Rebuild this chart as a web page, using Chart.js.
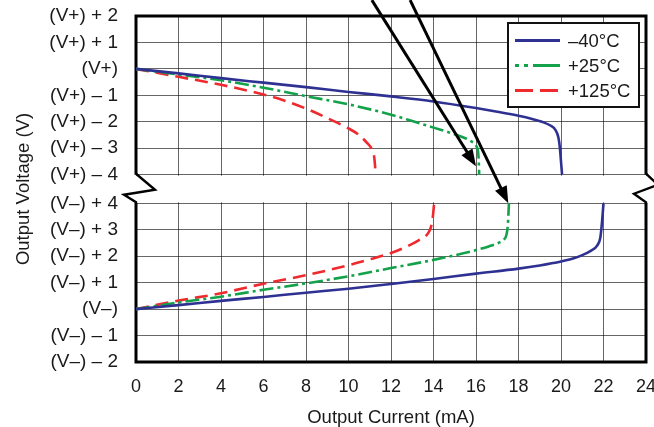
<!DOCTYPE html>
<html><head><meta charset="utf-8">
<script src="https://cdn.jsdelivr.net/npm/chart.js@4.4.1/dist/chart.umd.min.js"></script>
<style>html,body{margin:0;padding:0;background:#fff;}#wrap{width:654px;height:427px;}</style>
</head><body><div id="wrap"><canvas id="c" width="654" height="427"></canvas></div>
<script>
// ---- data ----
const currentTicks = [0, 2, 4, 6, 8, 10, 12, 14, 16, 18, 20, 22, 24];
const highRailOffsets = [-4, -3, -2, -1, 0, 1, 2];
const highRailLabels = ['(V+) – 4', '(V+) – 3', '(V+) – 2', '(V+) – 1', '(V+)', '(V+) + 1', '(V+) + 2'];
const lowRailOffsets = [-2, -1, 0, 1, 2, 3, 4];
const lowRailLabels = ['(V–) – 2', '(V–) – 1', '(V–)', '(V–) + 1', '(V–) + 2', '(V–) + 3', '(V–) + 4'];
const seriesNames = ['–40°C', '+25°C', '+125°C'];

// output swing relative to V+ : [current mA, volts from rail]
const highM40 = [[0,0],[2,-0.17],[4,-0.35],[6,-0.52],[8,-0.69],[10,-0.87],[12,-1.04],[14,-1.23],[16,-1.48],[17,-1.62],[18,-1.77],[18.6,-1.88],[19.1,-2.0],[19.5,-2.14],[19.75,-2.32],[19.88,-2.6],[19.95,-3.0],[20.0,-3.5],[20.05,-4]];
const high25 = [[0,0],[2,-0.21],[4,-0.43],[6,-0.71],[8,-1.03],[10,-1.34],[12,-1.73],[13,-1.97],[14,-2.22],[15,-2.47],[15.5,-2.62],[15.8,-2.75],[16.0,-2.9],[16.1,-3.15],[16.13,-3.5],[16.15,-4]];
const high125 = [[0,0],[2,-0.3],[4,-0.6],[6,-0.97],[7,-1.2],[8,-1.5],[9,-1.86],[10,-2.25],[10.5,-2.5],[10.85,-2.78],[11.1,-3.05],[11.22,-3.4],[11.28,-4]];
// output swing relative to V- : [current mA, volts from rail]
const lowM40 = [[0,0],[2,0.15],[4,0.31],[6,0.46],[8,0.62],[10,0.77],[12,0.95],[14,1.14],[16,1.34],[18,1.53],[19,1.65],[20,1.8],[20.6,1.92],[21.0,2.04],[21.4,2.2],[21.7,2.4],[21.85,2.7],[21.92,3.2],[22.0,4]];
const low25 = [[0,0],[2,0.25],[4,0.47],[6,0.73],[8,0.97],[10,1.24],[12,1.55],[14,1.86],[16,2.23],[16.6,2.37],[17.05,2.5],[17.3,2.62],[17.43,2.8],[17.5,3.2],[17.55,4]];
const low125 = [[0,0],[2,0.32],[4,0.6],[6,0.96],[8,1.28],[10,1.66],[11,1.88],[12,2.12],[12.7,2.35],[13.3,2.6],[13.7,2.82],[13.88,3.1],[13.97,3.5],[14.03,4]];

// callout arrows: tail (current, volts vs V+), tip (current, volts vs rail)
const arrowFromCurrent = [11.1, 12.9];
const arrowFromSwing = [2.6, 2.6];
const arrowToCurrent = [16.0, 17.52];
const arrowToSwing = [-3.68, 4.0];
const arrowToRail = ['high', 'low'];

// ---- axis mapping for the broken y axis ----
const GAP = 1.08;
const HIGH_SHIFT = 8 + GAP;
const toAxis = (v, rail) => rail === 'high' ? v + HIGH_SHIFT : v;
const pts = (arr, rail) => arr.map(([x, y]) => ({x, y: toAxis(y, rail)}));
const tickValues = [...lowRailOffsets.map(v => toAxis(v, 'low')), ...highRailOffsets.map(v => toAxis(v, 'high'))];
const tickLabel = new Map();
lowRailOffsets.forEach((v, i) => tickLabel.set(toAxis(v, 'low').toFixed(3), lowRailLabels[i]));
highRailOffsets.forEach((v, i) => tickLabel.set(toAxis(v, 'high').toFixed(3), highRailLabels[i]));

const colors = ['#2e3192', '#13a24a', '#ee2a2e'];
const dashes = [[], [14, 4, 3, 4], [13, 7]];
const legendDashes = [[], [4, 5, 4, 5, 27, 0], [18, 7]];
const FONT = '"Liberation Sans", Arial, Helvetica, sans-serif';
const TEXT = '#1a1a1a';
const GRID = 'rgba(0,0,0,0.6)';

const seriesHigh = [highM40, high25, high125];
const seriesLow = [lowM40, low25, low125];
const datasets = [];
for (let i = 0; i < 3; i++) {
  const base = {borderColor: colors[i], backgroundColor: colors[i], borderDash: dashes[i], borderWidth: 2.6,
    pointRadius: 0, fill: false, cubicInterpolationMode: 'monotone', borderCapStyle: 'butt'};
  datasets.push(Object.assign({label: seriesNames[i], data: pts(seriesHigh[i], 'high')}, base));
  datasets.push(Object.assign({label: seriesNames[i], data: pts(seriesLow[i], 'low')}, base));
}

const breakPlugin = {
  id: 'breakPlugin',
  beforeDatasetsDraw(chart) {
    const {ctx, chartArea: a, scales: {y}} = chart;
    const yA = y.getPixelForValue(toAxis(-4, 'high'));
    const yB = y.getPixelForValue(toAxis(4, 'low'));
    ctx.save();
    ctx.fillStyle = '#fff';
    ctx.fillRect(a.left - 3, yA + 1, a.right - a.left + 6, yB - yA - 2);
    ctx.strokeStyle = '#000';
    ctx.lineWidth = 3;
    ctx.lineJoin = 'miter';
    ctx.beginPath();
    ctx.moveTo(a.left, yA); ctx.lineTo(a.left, a.top); ctx.lineTo(a.right, a.top); ctx.lineTo(a.right, yA);
    ctx.stroke();
    ctx.beginPath();
    ctx.moveTo(a.left, yB); ctx.lineTo(a.left, a.bottom); ctx.lineTo(a.right, a.bottom); ctx.lineTo(a.right, yB);
    ctx.stroke();
    ctx.lineWidth = 2.4;
    ctx.beginPath();
    ctx.moveTo(a.left, yA - 1); ctx.lineTo(a.left + 19, yA + 15); ctx.lineTo(a.left - 12, yA + 20); ctx.lineTo(a.left, yB - 1); ctx.lineTo(a.left, yB + 1);
    ctx.moveTo(a.right, yA - 1); ctx.lineTo(a.right + 12, yA + 10); ctx.lineTo(a.right - 12, yA + 19); ctx.lineTo(a.right, yB - 1); ctx.lineTo(a.right, yB + 1);
    ctx.stroke();
    ctx.restore();
  },
  afterDraw(chart) {
    const {ctx, chartArea: a, scales: {x, y}} = chart;
    ctx.save();
    // legend
    const bw = 131, bh = 84;
    const bx = a.right - 7 - bw, by = a.top + 7;
    ctx.fillStyle = '#fff';
    ctx.fillRect(bx, by, bw, bh);
    ctx.strokeStyle = '#111';
    ctx.lineWidth = 2;
    ctx.strokeRect(bx, by, bw, bh);
    ctx.font = '18.5px ' + FONT;
    ctx.textBaseline = 'middle';
    ctx.textAlign = 'left';
    for (let i = 0; i < 3; i++) {
      const ry = by + 17.5 + i * 25;
      ctx.strokeStyle = colors[i];
      ctx.lineWidth = 2.8;
      ctx.setLineDash(legendDashes[i]);
      ctx.beginPath();
      ctx.moveTo(bx + 7, ry); ctx.lineTo(bx + 52, ry);
      ctx.stroke();
      ctx.setLineDash([]);
      ctx.fillStyle = TEXT;
      ctx.fillText(seriesNames[i], bx + 60, ry + 1);
    }
    // arrows
    ctx.strokeStyle = '#000';
    ctx.fillStyle = '#000';
    ctx.lineWidth = 3;
    for (let i = 0; i < arrowFromCurrent.length; i++) {
      const x1 = x.getPixelForValue(arrowFromCurrent[i]);
      const y1 = y.getPixelForValue(toAxis(arrowFromSwing[i], 'high'));
      const x2 = x.getPixelForValue(arrowToCurrent[i]);
      const y2 = y.getPixelForValue(toAxis(arrowToSwing[i], arrowToRail[i]));
      const ang = Math.atan2(y2 - y1, x2 - x1);
      const c = Math.cos(ang), s = Math.sin(ang);
      const hl = 17, hw = 6.5;
      ctx.beginPath();
      ctx.moveTo(x1, y1);
      ctx.lineTo(x2 - c * hl * 0.8, y2 - s * hl * 0.8);
      ctx.stroke();
      ctx.beginPath();
      ctx.moveTo(x2, y2);
      ctx.lineTo(x2 - c * hl - s * hw, y2 - s * hl + c * hw);
      ctx.lineTo(x2 - c * hl + s * hw, y2 - s * hl - c * hw);
      ctx.closePath();
      ctx.fill();
    }
    ctx.restore();
  }
};

new Chart(document.getElementById('c'), {
  type: 'line',
  data: {datasets},
  options: {
    responsive: false,
    animation: false,
    devicePixelRatio: 1,
    layout: {padding: {left: 0, right: 8, top: 16, bottom: 0}},
    plugins: {legend: {display: false}, tooltip: {enabled: false}},
    scales: {
      x: {
        type: 'linear', min: 0, max: 24,
        afterBuildTicks: s => { s.ticks = currentTicks.map(v => ({value: v})); },
        afterFit: s => { s.height = 65; s.paddingLeft = 0; s.paddingRight = 0; },
        ticks: {autoSkip: false, maxRotation: 0, padding: 14, color: TEXT, font: {family: FONT, size: 18}},
        grid: {color: GRID, lineWidth: 1, drawTicks: false},
        border: {display: false},
        title: {display: true, text: 'Output Current (mA)', color: TEXT, font: {family: FONT, size: 18.5, lineHeight: 1}, padding: {top: 0, bottom: 0}}
      },
      y: {
        type: 'linear', min: toAxis(-2, 'low'), max: toAxis(2, 'high'),
        afterBuildTicks: s => { s.ticks = tickValues.map(v => ({value: v})); },
        afterFit: s => { s.width = 136; s.paddingTop = 0; s.paddingBottom = 0; },
        ticks: {autoSkip: false, padding: 18, color: TEXT, font: {family: FONT, size: 19},
          callback: v => tickLabel.get(Number(v).toFixed(3)) || ''},
        grid: {color: GRID, lineWidth: 1, drawTicks: false},
        border: {display: false},
        title: {display: true, text: 'Output Voltage (V)', color: TEXT, font: {family: FONT, size: 18.5, lineHeight: 1}, padding: {top: 15, bottom: 0}}
      }
    }
  },
  plugins: [breakPlugin]
});
</script>
</body></html>
